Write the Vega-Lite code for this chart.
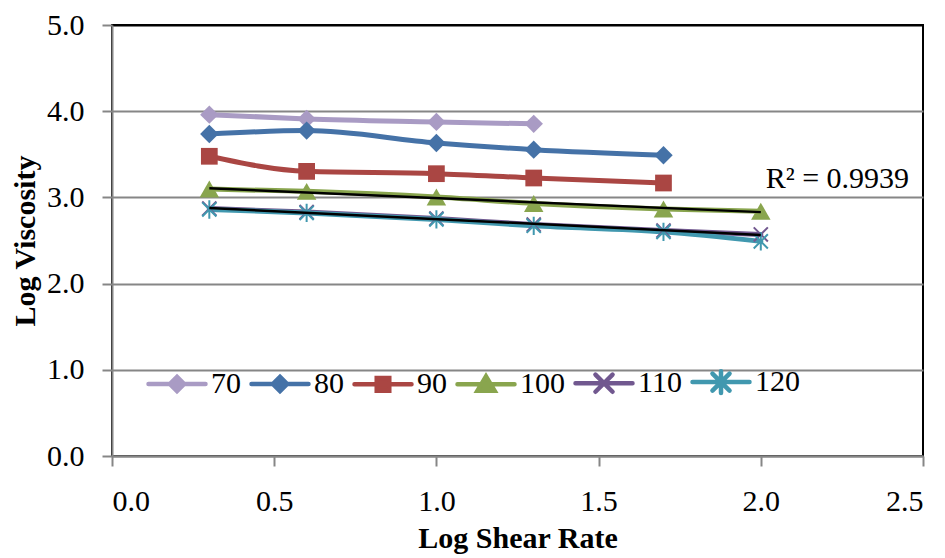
{
  "$schema": "https://vega.github.io/schema/vega-lite/v6.json",
  "autosize": "none",
  "width": 811,
  "height": 431,
  "padding": {"left": 112, "top": 25, "right": 22, "bottom": 102},
  "background": "white",
  "config": {
    "font": "Liberation Serif",
    "view": {"stroke": "#000000", "strokeWidth": 2},
    "legend": {"labelFont": "Liberation Serif", "labelFontSize": 30, "labelColor": "#000000"},
    "axis": {
      "labelFont": "Liberation Serif",
      "titleFont": "Liberation Serif",
      "labelFontSize": 30,
      "titleFontSize": 30,
      "titleFontWeight": "bold",
      "labelColor": "#000000",
      "titleColor": "#000000",
      "domainColor": "#868686",
      "domainWidth": 2,
      "tickColor": "#868686",
      "tickWidth": 2,
      "tickSize": 10
    }
  },
  "datasets": {
    "pts": [
      {"series": "70", "x": 0.3, "y": 3.96},
      {"series": "70", "x": 0.6, "y": 3.91},
      {"series": "70", "x": 1.0, "y": 3.876},
      {"series": "70", "x": 1.3, "y": 3.853},
      {"series": "80", "x": 0.3, "y": 3.736},
      {"series": "80", "x": 0.6, "y": 3.775},
      {"series": "80", "x": 1.0, "y": 3.632},
      {"series": "80", "x": 1.3, "y": 3.554},
      {"series": "80", "x": 1.7, "y": 3.49},
      {"series": "90", "x": 0.3, "y": 3.477},
      {"series": "90", "x": 0.6, "y": 3.302},
      {"series": "90", "x": 1.0, "y": 3.275},
      {"series": "90", "x": 1.3, "y": 3.225},
      {"series": "90", "x": 1.7, "y": 3.167},
      {"series": "100", "x": 0.3, "y": 3.097},
      {"series": "100", "x": 0.6, "y": 3.07},
      {"series": "100", "x": 1.0, "y": 3.004},
      {"series": "100", "x": 1.3, "y": 2.93},
      {"series": "100", "x": 1.7, "y": 2.866},
      {"series": "100", "x": 2.0, "y": 2.84},
      {"series": "110", "x": 0.3, "y": 2.87},
      {"series": "110", "x": 0.6, "y": 2.83},
      {"series": "110", "x": 1.0, "y": 2.755},
      {"series": "110", "x": 1.3, "y": 2.685},
      {"series": "110", "x": 1.7, "y": 2.615},
      {"series": "110", "x": 2.0, "y": 2.57},
      {"series": "120", "x": 0.3, "y": 2.86},
      {"series": "120", "x": 0.6, "y": 2.82},
      {"series": "120", "x": 1.0, "y": 2.745},
      {"series": "120", "x": 1.3, "y": 2.67},
      {"series": "120", "x": 1.7, "y": 2.6},
      {"series": "120", "x": 2.0, "y": 2.49}
    ],
    "note": [
      {"x": 2.236, "y": 3.11, "t": "R² = 0.9939"}
    ]
  },
  "layer": [
    {
      "data": {"name": "pts"},
      "mark": {"type": "line", "interpolate": "monotone", "strokeWidth": 5, "strokeCap": "round"},
      "encoding": {
        "x": {
          "field": "x", "type": "quantitative",
          "scale": {"domain": [0, 2.5], "nice": false},
          "axis": {"title": "Log Shear Rate", "values": [0, 0.5, 1, 1.5, 2, 2.5], "format": ".1f", "grid": false, "labelPadding": 20, "titlePadding": 7}
        },
        "y": {
          "field": "y", "type": "quantitative",
          "scale": {"domain": [0, 5], "nice": false},
          "axis": {
            "title": "Log Viscosity", "values": [0, 1, 2, 3, 4, 5], "format": ".1f",
            "grid": true, "gridColor": {"condition": {"test": "datum.value == 5", "value": "#000000"}, "value": "#868686"}, "gridWidth": 2,
            "labelPadding": 18, "titlePadding": 6
          }
        },
        "color": {
          "field": "series", "type": "nominal",
          "scale": {"domain": ["70", "80", "90", "100", "110", "120"], "range": ["#A99BC4", "#4572A7", "#AA4643", "#89A54E", "#71588F", "#4198AF"]},
          "legend": {
            "title": null,
            "orient": "none",
            "legendX": 34,
            "legendY": 326,
            "direction": "horizontal",
            "columns": 6,
            "padding": 0,
            "symbolSize": 3249,
            "symbolStrokeWidth": 4.5,
            "labelFont": "Liberation Serif",
            "labelFontSize": 30,
            "labelColor": "#000000",
            "labelOffset": 3,
            "columnPadding": 1,
            "encode": {
              "labels": {
                "update": {
                  "font": {"value": "Liberation Serif"},
                  "fontSize": {"value": 30}
                }
              },
              "symbols": {
                "update": {
                  "shape": {"signal": "datum.value == '70' || datum.value == '80' ? 'M-1,0L1,0M0,-0.25L0.25,0L0,0.25L-0.25,0Z' : datum.value == '90' ? 'M-1,0L1,0M-0.22,-0.22L0.22,-0.22L0.22,0.22L-0.22,0.22Z' : datum.value == '100' ? 'M-1,0L1,0M0,-0.28L0.3,0.22L-0.3,0.22Z' : datum.value == '110' ? 'M-1,0L1,0M-0.3,-0.3L0.3,0.3M-0.3,0.3L0.3,-0.3' : 'M-1,0L1,0M-0.3,-0.3L0.3,0.3M-0.3,0.3L0.3,-0.3M0,-0.38L0,0.38'"},
                  "stroke": {"scale": "color", "field": "value"},
                  "fill": {"scale": "color", "field": "value"},
                  "strokeCap": {"value": "round"},
                  "opacity": {"value": 1}
                }
              }
            }
          }
        },
        "detail": {"field": "series"},
        "order": {"field": "x"}
      }
    },
    {
      "data": {"name": "pts"},
      "transform": [{"filter": "datum.series == '70' || datum.series == '80'"}],
      "mark": {"type": "point", "shape": "diamond", "size": 340, "filled": true, "opacity": 1},
      "encoding": {
        "x": {"field": "x", "type": "quantitative"},
        "y": {"field": "y", "type": "quantitative"},
        "color": {"field": "series", "type": "nominal"}
      }
    },
    {
      "data": {"name": "pts"},
      "transform": [{"filter": "datum.series == '90'"}],
      "mark": {"type": "point", "shape": "square", "size": 280, "filled": true, "opacity": 1},
      "encoding": {
        "x": {"field": "x", "type": "quantitative"},
        "y": {"field": "y", "type": "quantitative"},
        "color": {"field": "series", "type": "nominal"}
      }
    },
    {
      "data": {"name": "pts"},
      "transform": [{"filter": "datum.series == '100'"}],
      "mark": {"type": "point", "shape": "triangle-up", "size": 380, "filled": true, "opacity": 1},
      "encoding": {
        "x": {"field": "x", "type": "quantitative"},
        "y": {"field": "y", "type": "quantitative"},
        "color": {"field": "series", "type": "nominal"}
      }
    },
    {
      "data": {"name": "pts"},
      "transform": [{"filter": "datum.series == '110'"}],
      "mark": {"type": "point", "shape": "M-1,-1L1,1M-1,1L1,-1", "size": 200, "filled": false, "opacity": 1, "strokeWidth": 2},
      "encoding": {
        "x": {"field": "x", "type": "quantitative"},
        "y": {"field": "y", "type": "quantitative"},
        "color": {"field": "series", "type": "nominal"}
      }
    },
    {
      "data": {"name": "pts"},
      "transform": [{"filter": "datum.series == '120'"}],
      "mark": {"type": "point", "shape": "M-1,-1L1,1M-1,1L1,-1M0,-1.3L0,1.3", "size": 200, "filled": false, "opacity": 1, "strokeWidth": 2},
      "encoding": {
        "x": {"field": "x", "type": "quantitative"},
        "y": {"field": "y", "type": "quantitative"},
        "color": {"field": "series", "type": "nominal"}
      }
    },
    {
      "data": {"name": "pts"},
      "transform": [
        {"filter": "datum.series == '100' || datum.series == '110'"},
        {"regression": "y", "on": "x", "groupby": ["series"], "extent": [0.3, 2.0]}
      ],
      "mark": {"type": "line", "color": "#000000", "strokeWidth": 2.5},
      "encoding": {
        "x": {"field": "x", "type": "quantitative"},
        "y": {"field": "y", "type": "quantitative"},
        "detail": {"field": "series"}
      }
    },
    {
      "data": {"name": "note"},
      "mark": {"type": "text", "font": "Liberation Serif", "fontSize": 30, "align": "center", "baseline": "alphabetic", "color": "#000000"},
      "encoding": {
        "x": {"field": "x", "type": "quantitative"},
        "y": {"field": "y", "type": "quantitative"},
        "text": {"field": "t"}
      }
    }
  ]
}
